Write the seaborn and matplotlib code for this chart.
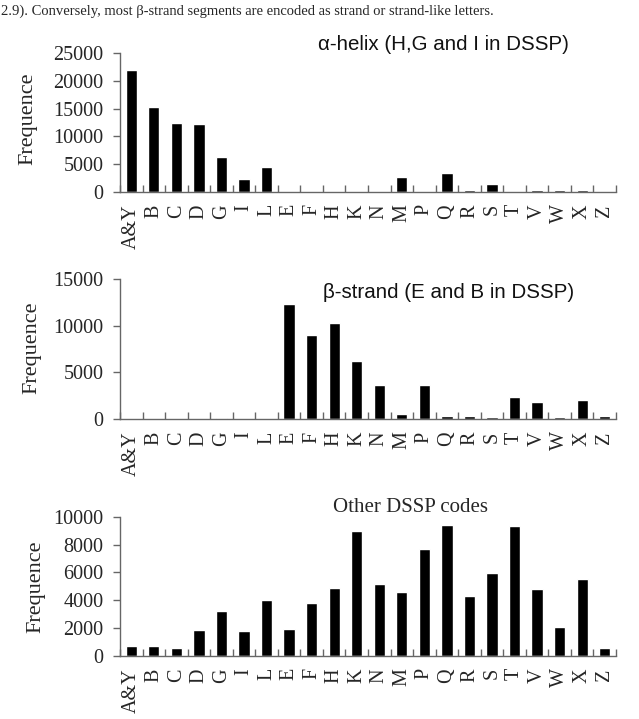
import numpy as np
import pandas as pd
import matplotlib
matplotlib.use("Agg")
import matplotlib.pyplot as plt
import seaborn as sns

letters = ["A&Y", "B", "C", "D", "G", "I", "L", "E", "F", "H", "K", "N",
           "M", "P", "Q", "R", "S", "T", "V", "W", "X", "Z"]

helix = [21900, 15250, 12450, 12250, 6300, 2350, 4450, 0, 0, 0, 0, 0,
         2600, 0, 3300, 300, 1450, 0, 300, 300, 300, 0]
strand = [0, 0, 0, 0, 150, 0, 0, 12300, 9050, 10270, 6200, 3620,
          500, 3620, 360, 360, 200, 2400, 1860, 200, 2000, 360]
other = [670, 670, 575, 1850, 3210, 1750, 4030, 1940, 3760, 4840, 8950, 5130,
         4580, 7670, 9400, 4320, 5950, 9300, 4770, 2040, 5490, 575]

titles = ["\u03b1-helix (H,G and I in DSSP)", "\u03b2-strand (E and B in DSSP)", "Other DSSP codes"]
ymaxes = [25000, 15000, 10000]
ysteps = [5000, 5000, 2000]

sns.set_style("ticks")
plt.rcParams["font.family"] = ["Liberation Serif", "DejaVu Serif"]

W, H = 639, 719
fig = plt.figure(figsize=(W / 100, H / 100), dpi=100)

# axes boxes in pixels: left, bottom (y of zero line), height
boxes = [(120, 191.7, 138.4), (120, 419.0, 139.7), (120, 655.7, 139.0)]
ylabel_pos = [(28, 119), (32, 348), (36, 587)]
title_pos = [(318, 45), (323, 292), (333, 507)]
axis_grey = "#666666"

for i, vals in enumerate([helix, strand, other]):
    left, bottom, height = boxes[i]
    ax = fig.add_axes([left / W, 1 - bottom / H, 496 / W, height / H])
    df = pd.DataFrame({"letter": letters, "count": vals})
    sns.barplot(data=df, x="letter", y="count", color="black", width=0.5,
                saturation=1, ax=ax)
    ax.set_xlim(-0.5, len(letters) - 0.5)
    ax.set_ylim(0, ymaxes[i])
    ax.set_yticks(np.arange(0, ymaxes[i] + 1, ysteps[i]))
    ax.set_xticks(np.arange(-0.5, len(letters), 1), minor=True)
    ax.tick_params(axis="x", which="major", length=0, pad=9, labelsize=14.5,
                   labelrotation=90)
    ax.tick_params(axis="x", which="minor", direction="in", length=5,
                   color=axis_grey, width=1)
    ax.tick_params(axis="y", length=5, color=axis_grey, width=1, pad=7,
                   labelsize=14.5)
    ax.set_xlabel("")
    ax.set_ylabel("")
    sns.despine(ax=ax)
    for s in ["left", "bottom"]:
        ax.spines[s].set_color(axis_grey)
        ax.spines[s].set_linewidth(1)

    fig.text(ylabel_pos[i][0] / W, 1 - ylabel_pos[i][1] / H, "Frequence",
             rotation=90, ha="center", va="center", fontsize=16)
    tx, ty = title_pos[i]
    if i < 2:
        fig.text(tx / W, 1 - ty / H, titles[i], ha="left", va="center",
                 fontsize=14.8, family=["Liberation Sans", "DejaVu Sans"],
                 color="#111111")
    else:
        fig.text(tx / W, 1 - ty / H, titles[i], ha="left", va="center",
                 fontsize=15)

fig.text(1 / W, 1 - 11 / H,
         "2.9). Conversely, most \u03b2-strand segments are encoded as strand or strand-like letters.",
         ha="left", va="center", fontsize=10.5)

fig.savefig("out.png", dpi=100, facecolor="white")
